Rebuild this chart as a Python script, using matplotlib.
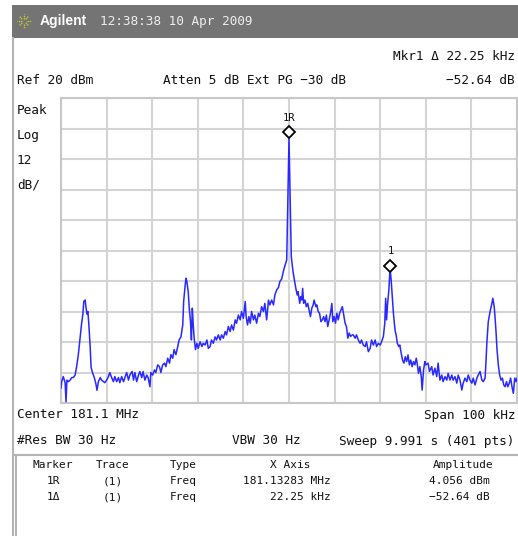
import matplotlib
matplotlib.use("Agg")
import math
import matplotlib.pyplot as plt
from matplotlib.patches import Rectangle
from matplotlib.lines import Line2D
import matplotlib.transforms as mtransforms

# ---------------- data ----------------
freq_khz = [
    -50.0, -49.85, -49.5, -49.1, -48.9, -48.7, -48.4, -48.0, -47.65, -47.3,
    -46.9, -46.6, -46.2, -45.8, -45.5, -45.2, -45.0, -44.7, -44.5, -44.3,
    -44.1, -43.9, -43.6, -43.4, -43.1, -42.7, -42.4, -42.1, -41.8, -41.4,
    -41.1, -40.7, -40.4, -40.0, -39.6, -39.3, -38.9, -38.5, -38.2, -37.8,
    -37.4, -37.1, -36.7, -36.3, -36.0, -35.6, -35.2, -34.9, -34.4, -34.1,
    -33.8, -33.4, -33.0, -32.7, -32.3, -32.0, -31.6, -31.2, -30.9, -30.5,
    -30.3, -29.9, -29.5, -29.2, -28.8, -28.4, -28.1, -27.7, -27.3, -27.0,
    -26.6, -26.2, -25.9, -25.5, -25.2, -24.8, -24.4, -24.1, -23.7, -23.3,
    -23.1, -22.8, -22.6, -22.4, -22.1, -21.9, -21.6, -21.4, -21.2, -21.0,
    -20.8, -20.5, -20.2, -19.9, -19.5, -19.1, -18.8, -18.4, -18.0, -17.7,
    -17.3, -17.0, -16.6, -16.2, -15.9, -15.5, -15.1, -14.8, -14.4, -14.0,
    -13.7, -13.3, -12.9, -12.6, -12.2, -11.8, -11.5, -11.1, -10.7, -10.4,
    -10.0, -9.6, -9.4, -9.1, -8.8, -8.5, -8.2, -7.8, -7.5, -7.1,
    -6.7, -6.4, -6.0, -5.6, -5.3, -4.9, -4.5, -4.2, -3.8, -3.4,
    -3.1, -2.7, -2.3, -2.0, -1.6, -1.25, -0.9, -0.5, -0.25, 0.0,
    0.25, 0.5, 0.75, 0.94, 1.3, 1.5, 1.8, 2.0, 2.35, 2.55,
    2.8, 3.0, 3.2, 3.5, 3.8, 4.1, 4.4, 4.7, 5.0, 5.3,
    5.5, 5.9, 6.1, 6.4, 6.7, 7.0, 7.3, 7.6, 7.9, 8.2,
    8.5, 8.8, 9.1, 9.4, 9.6, 9.9, 10.2, 10.5, 10.8, 11.1,
    11.4, 11.7, 12.0, 12.3, 12.6, 12.9, 13.2, 13.5, 13.9, 14.1,
    14.5, 14.8, 15.2, 15.6, 15.9, 16.3, 16.7, 17.0, 17.4, 17.8,
    18.1, 18.5, 18.9, 19.2, 19.6, 20.0, 20.3, 20.7, 21.0, 21.2,
    21.4, 21.6, 21.9, 22.1, 22.25, 22.4, 22.65, 22.9, 23.1, 23.3,
    23.5, 23.75, 24.1, 24.3, 24.6, 24.9, 25.2, 25.5, 25.8, 26.1,
    26.4, 26.7, 27.0, 27.3, 27.6, 27.9, 28.1, 28.4, 28.7, 29.0,
    29.2, 29.5, 29.8, 30.0, 30.5, 30.8, 31.3, 31.6, 32.0, 32.4,
    32.7, 33.1, 33.5, 33.8, 34.2, 34.6, 34.9, 35.3, 35.7, 36.0,
    36.4, 36.8, 37.1, 37.5, 37.9, 38.2, 38.6, 39.0, 39.3, 39.7,
    40.1, 40.4, 40.8, 41.2, 41.5, 41.9, 42.3, 42.6, 43.0, 43.2,
    43.4, 43.7, 44.1, 44.5, 44.7, 45.0, 45.2, 45.4, 45.6, 45.9,
    46.2, 46.5, 46.8, 47.1, 47.4, 47.7, 48.0, 48.3, 48.6, 48.9,
    49.2, 49.5, 49.8, 50.0,
]

level_dbm = [
    -94.1, -91.6, -89.6, -92.0, -99.5, -91.0, -91.6, -91.0, -90.0, -90.0,
    -89.0, -86.0, -81.0, -74.0, -69.0, -65.0, -60.0, -59.5, -62.7, -65.0,
    -64.0, -69.0, -78.0, -86.0, -88.0, -90.0, -92.0, -95.0, -91.6, -90.0,
    -91.0, -91.6, -92.0, -91.0, -89.6, -88.0, -90.0, -91.6, -89.6, -91.6,
    -90.0, -92.0, -89.6, -91.6, -90.0, -88.0, -91.0, -89.0, -87.6, -91.0,
    -88.0, -91.6, -89.0, -87.6, -90.0, -87.6, -91.0, -89.0, -90.0, -93.6,
    -88.0, -89.0, -87.0, -88.0, -85.0, -85.7, -88.0, -85.0, -84.3, -85.7,
    -82.4, -84.3, -81.0, -82.4, -79.0, -81.0, -77.8, -75.2, -74.0, -69.3,
    -60.0, -54.2, -50.9, -52.2, -56.2, -62.1, -68.0, -75.2, -62.7, -69.3,
    -74.5, -79.0, -76.5, -78.5, -75.9, -77.8, -76.5, -77.2, -75.2, -78.5,
    -77.8, -75.2, -76.5, -74.0, -75.2, -73.2, -75.2, -73.2, -74.5, -71.9,
    -73.2, -69.9, -71.9, -69.3, -71.3, -67.3, -68.6, -65.4, -67.3, -64.0,
    -66.7, -60.1, -66.0, -69.3, -66.0, -68.6, -64.0, -67.3, -65.4, -68.6,
    -64.7, -66.0, -62.1, -64.0, -60.8, -67.3, -59.5, -61.4, -59.5, -61.4,
    -57.5, -55.5, -54.5, -52.2, -51.2, -48.3, -46.0, -43.7, -19.0, 4.056,
    -19.5, -42.4, -46.4, -49.0, -52.9, -54.9, -57.5, -56.2, -60.8, -58.2,
    -59.5, -54.9, -60.8, -59.5, -62.1, -60.8, -63.4, -66.0, -62.7, -61.4,
    -59.5, -62.1, -61.4, -64.0, -64.7, -68.0, -67.3, -66.0, -68.0, -65.4,
    -69.9, -67.3, -64.7, -60.8, -68.0, -66.0, -68.6, -64.7, -67.3, -64.7,
    -63.4, -62.1, -65.4, -68.6, -69.9, -74.5, -72.5, -73.8, -73.2, -73.2,
    -74.5, -73.2, -75.2, -76.5, -75.2, -77.2, -77.8, -75.9, -79.8, -78.5,
    -75.2, -77.2, -75.2, -77.8, -76.5, -77.2, -75.9, -73.8, -68.6, -58.8,
    -67.3, -61.4, -55.5, -49.0, -48.58, -51.6, -58.2, -64.7, -68.6, -71.9,
    -73.2, -76.5, -77.8, -77.2, -80.4, -83.1, -84.3, -81.8, -83.7, -81.1,
    -85.0, -83.1, -85.7, -83.7, -85.0, -82.4, -84.3, -88.3, -85.7, -89.6,
    -94.9, -87.0, -83.7, -85.0, -84.3, -87.6, -85.7, -89.0, -86.3, -89.6,
    -84.3, -91.0, -89.0, -91.6, -89.6, -91.0, -88.3, -91.0, -89.0, -91.0,
    -89.6, -92.2, -89.0, -91.0, -94.9, -92.2, -90.2, -91.6, -89.0, -91.0,
    -92.2, -90.2, -92.9, -90.2, -89.0, -87.6, -91.0, -91.6, -90.2, -83.7,
    -75.9, -68.0, -64.0, -60.8, -58.8, -62.1, -66.7, -71.9, -78.5, -85.0,
    -89.0, -91.0, -90.2, -92.9, -93.6, -91.6, -93.6, -92.2, -90.2, -93.6,
    -96.2, -90.2, -91.6, -90.2,
]

marker_freqs = [0.0, 22.25]
marker_levels = [4.056, -48.58]
marker_labels = ["1R", "1"]

x_ticks = [-50, -40, -30, -20, -10, 0, 10, 20, 30, 40, 50]
y_ticks = [20, 8, -4, -16, -28, -40, -52, -64, -76, -88, -100]

table_header = ["Marker", "Trace", "Type", "X Axis", "Amplitude"]
table_rows = [["1R", "(1)", "Freq", "181.13283 MHz", "4.056 dBm"],
              ["1Δ", "(1)", "Freq", "22.25 kHz", "−52.64 dB"]]

# ---------------- figure ----------------
W, H = 518, 536
fig = plt.figure(figsize=(W / 100, H / 100), dpi=100)
fig.patch.set_facecolor("white")


def P(x, y):
    return (x / W, 1 - y / H)


MONO = "DejaVu Sans Mono"
TXT = "#111111"
FS = 9.2

# header bar
fig.add_artist(Rectangle(P(12, 38), (W - 12) / W, 33 / H, transform=fig.transFigure,
                         facecolor="#747474", edgecolor="none"))
# sunburst logo
cx, cy = 24, 21
for k in range(8):
    a = k * math.pi / 4
    x0, y0 = cx + 2.5 * math.cos(a), cy + 2.5 * math.sin(a)
    x1, y1 = cx + 7 * math.cos(a), cy + 7 * math.sin(a)
    fig.add_artist(Line2D([x0 / W, x1 / W], [1 - y0 / H, 1 - y1 / H], transform=fig.transFigure,
                          color="#c8c832", lw=1.0, ls=(0, (1, 0.6))))
fig.text(*P(40, 21), "Agilent", color="white", fontsize=10, fontweight="bold",
         family="Liberation Sans", va="center", ha="left")
fig.text(*P(100, 21), "12:38:38 10 Apr 2009", color="#eeeeee", fontsize=FS,
         family=MONO, va="center", ha="left")

# panel border
fig.add_artist(Line2D([13 / W, 13 / W], [1 - 38 / H, 0], transform=fig.transFigure,
                      color="#b4b4b4", lw=1.5))

# top annotations
fig.text(*P(515, 56), "Mkr1 Δ 22.25 kHz", fontsize=FS, family=MONO, color=TXT, ha="right", va="center")
fig.text(*P(17, 81), "Ref 20 dBm", fontsize=FS, family=MONO, color=TXT, ha="left", va="center")
fig.text(*P(163, 81), "Atten 5 dB Ext PG −30 dB", fontsize=FS, family=MONO, color=TXT, ha="left", va="center")
fig.text(*P(515, 81), "−52.64 dB", fontsize=FS, family=MONO, color=TXT, ha="right", va="center")

for i, s in enumerate(["Peak", "Log", "12", "dB/"]):
    fig.text(*P(17, 110 + 25 * i), s, fontsize=FS, family=MONO, color=TXT, ha="left", va="center")

# ---------------- axes ----------------
ax = fig.add_axes([61 / W, 1 - 403 / H, (517 - 61) / W, (403 - 98) / H])
ax.set_xlim(-50, 50)
ax.set_ylim(-100, 20)
ax.set_xticks(x_ticks)
ax.set_yticks(y_ticks)
ax.tick_params(length=0, labelbottom=False, labelleft=False)
ax.grid(True, color="#d4d4d4", lw=1.5)
for sp in ax.spines.values():
    sp.set_color("#c8c8c8")
    sp.set_linewidth(1.5)
ax.set_facecolor("white")

ax.plot(freq_khz, level_dbm, color="#2828ff", lw=1.1, zorder=3)

offset = mtransforms.offset_copy(ax.transData, fig=fig, x=0, y=4.5, units="points")
for f, l, lab in zip(marker_freqs, marker_levels, marker_labels):
    ax.plot([f], [l], marker="D", markersize=6, markerfacecolor="white",
            markeredgecolor="black", markeredgewidth=1.3, transform=offset, zorder=5,
            clip_on=False)
    ax.annotate(lab, (f, l), xytext=(0, 11.5), textcoords="offset points", ha="center",
                va="bottom", fontsize=7.5, family=MONO, color=TXT, zorder=5)

# ---------------- bottom annotations ----------------
fig.text(*P(17, 415), "Center 181.1 MHz", fontsize=FS, family=MONO, color=TXT, ha="left", va="center")
fig.text(*P(515, 415), "Span 100 kHz", fontsize=FS, family=MONO, color=TXT, ha="right", va="center")
fig.text(*P(17, 441), "#Res BW 30 Hz", fontsize=FS, family=MONO, color=TXT, ha="left", va="center")
fig.text(*P(232, 441), "VBW 30 Hz", fontsize=FS, family=MONO, color=TXT, ha="left", va="center")
fig.text(*P(514, 441), "Sweep 9.991 s (401 pts)", fontsize=FS, family=MONO, color=TXT, ha="right", va="center")

# table box
fig.add_artist(Line2D([15 / W, 1], [1 - 455 / H, 1 - 455 / H], transform=fig.transFigure,
                      color="#b4b4b4", lw=1.5))
fig.add_artist(Line2D([16 / W, 16 / W], [1 - 455 / H, 0], transform=fig.transFigure,
                      color="#b4b4b4", lw=1.5))

TS = 8
col_x = [53, 113, 183, 290, 463]
for s, x in zip(table_header, col_x):
    fig.text(*P(x, 465), s, fontsize=TS, family=MONO, color=TXT, ha="center", va="center")
for r, row in enumerate(table_rows):
    y = 481 + 16 * r
    fig.text(*P(53, y), row[0], fontsize=TS, family=MONO, color=TXT, ha="center", va="center")
    fig.text(*P(113, y), row[1], fontsize=TS, family=MONO, color=TXT, ha="center", va="center")
    fig.text(*P(183, y), row[2], fontsize=TS, family=MONO, color=TXT, ha="center", va="center")
    fig.text(*P(331, y), row[3], fontsize=TS, family=MONO, color=TXT, ha="right", va="center")
    fig.text(*P(490, y), row[4], fontsize=TS, family=MONO, color=TXT, ha="right", va="center")

fig.savefig("out.png", dpi=100)
